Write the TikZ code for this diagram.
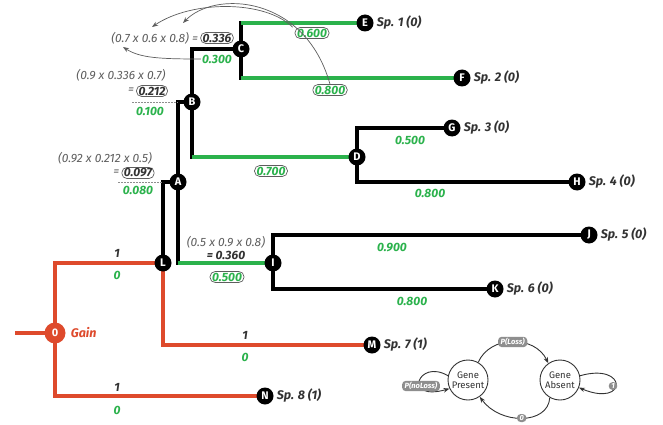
\documentclass[tikz,border=0pt]{standalone}
\usepackage{fontspec}
\setmainfont{Fira Sans}
\usetikzlibrary{backgrounds,arrows.meta}
\definecolor{tred}{HTML}{DE4A2C}
\definecolor{tgreen}{HTML}{2BB24C}
\definecolor{tgray}{HTML}{5E5E5E}
\definecolor{tdark}{HTML}{333333}
\definecolor{pillgray}{HTML}{8E8E8E}
\begin{document}
\begin{tikzpicture}[x=1pt,y=-1pt,
  tn/.style={circle,fill=black,text=white,font=\bfseries\fontsize{11}{11}\selectfont,inner sep=0pt,minimum size=17pt},
  blk/.style={line width=3.6pt,black,line cap=rect,line join=miter},
  grn/.style={line width=4.4pt,tgreen},
  redl/.style={line width=4.4pt,tred,line join=miter},
  sp/.style={anchor=west,text=tdark,font=\bfseries\itshape\fontsize{12.5}{13}\selectfont,inner sep=1pt},
  gv/.style={text=tgreen,font=\bfseries\itshape\fontsize{12}{12}\selectfont,inner sep=1pt},
  ov/.style={text=tdark,font=\bfseries\itshape\fontsize{12}{12}\selectfont,inner sep=1pt},
  boxed/.style={draw=tgray,line width=0.7pt,rounded corners=5pt,inner xsep=2pt,inner ysep=1.2pt},
  frm/.style={text=tgray,font=\itshape\fontsize{12}{12}\selectfont,inner sep=1pt},
  garr/.style={draw=tgray,line width=0.7pt,-{Stealth[length=6pt,width=4.5pt]}},
  leader/.style={draw=tgray!70,line width=0.7pt,dash pattern=on 2pt off 1pt},
  st/.style={circle,draw=tdark,line width=0.9pt,fill=white,minimum size=40pt,inner sep=0pt,align=center,text=tdark,font=\fontsize{9.5}{9.5}\selectfont},
  pill/.style={fill=pillgray,text=white,rounded corners=3.5pt,inner xsep=2.5pt,inner ysep=1.3pt,font=\bfseries\itshape\fontsize{7.5}{7.5}\selectfont},
  sarr/.style={draw=tdark,line width=0.9pt,-{Stealth[length=6pt,width=4.5pt]}}
]
\useasboundingbox (0,0) rectangle (663,425);

% tree nodes
\node[tn] (E) at (365,23) {E};
\node[tn] (F) at (462,78) {F};
\node[tn] (C) at (241,49) {C};
\node[tn] (B) at (192,102) {B};
\node[tn] (D) at (357,157) {D};
\node[tn] (G) at (452,128) {G};
\node[tn] (H) at (577,182) {H};
\node[tn] (A) at (178,182) {A};
\node[tn] (L) at (163,263) {L};
\node[tn] (I) at (273,263) {I};
\node[tn] (J) at (589,235) {J};
\node[tn] (K) at (495,289) {K};
\node[tn] (M) at (372,345) {M};
\node[tn] (N) at (265,396) {N};
\node[tn,fill=tred,minimum size=21pt,font=\bfseries\fontsize{11}{11}\selectfont] (O) at (55,333) {0};
\coordinate (root) at (15,333);

% species labels
\node[sp] (sE) at ([xshift=2pt]E.east) {Sp. 1 (0)};
\node[sp] (sF) at ([xshift=2pt]F.east) {Sp. 2 (0)};
\node[sp] (sG) at ([xshift=2pt]G.east) {Sp. 3 (0)};
\node[sp] (sH) at ([xshift=2pt]H.east) {Sp. 4 (0)};
\node[sp] (sJ) at ([xshift=2pt]J.east) {Sp. 5 (0)};
\node[sp] (sK) at ([xshift=2pt]K.east) {Sp. 6 (0)};
\node[sp] (sM) at ([xshift=2pt]M.east) {Sp. 7 (1)};
\node[sp] (sN) at ([xshift=2pt]N.east) {Sp. 8 (1)};
\node[sp,text=tred] (gain) at ([xshift=4pt]O.east) {Gain};

% branches
\begin{scope}[on background layer]
\fill[white] (0,0) rectangle (663,425);
\draw[blk] (C.center) -- (C.center |- E.center);
\draw[grn] (C.center |- E.center) -- (E.center);
\draw[blk] (C.center) -- (C.center |- F.center);
\draw[grn] (C.center |- F.center) -- (F.center);
\draw[blk] (B.center) |- (C.center);
\draw[blk] (B.center) -- (B.center |- D.center);
\draw[grn] (B.center |- D.center) -- (D.center);
\draw[blk] (D.center) |- (G.center);
\draw[blk] (D.center) |- (H.center);
\draw[blk] (A.center) |- (B.center);
\draw[blk] (A.center) -- (A.center |- I.center);
\draw[grn] (A.center |- I.center) -- (I.center);
\draw[blk] (L.center) |- (A.center);
\draw[blk] (I.center) |- (J.center);
\draw[blk] (I.center) |- (K.center);
\draw[redl] (root) -- (O.center);
\draw[redl] (O.center) |- (L.center);
\draw[redl] (O.center) |- (N.center);
\draw[redl] (L.center) |- (M.center);
\end{scope}

% red branch labels
\node[ov] (r1a) at (117,253) {1};
\node[gv] (r0a) at (117,275) {0};
\node[ov] (r1b) at (245,335) {1};
\node[gv] (r0b) at (245,357) {0};
\node[ov] (r1c) at (117,387) {1};
\node[gv] (r0c) at (117,410) {0};

% green values
\node[gv] (v300) at (217,59) {0.300};
\node[gv] (v100) at (150,111) {0.100};
\node[gv] (v080) at (138,190) {0.080};
\node[gv] (vG) at (410,140) {0.500};
\node[gv] (vH) at (430,193) {0.800};
\node[gv] (vJ) at (392,248) {0.900};
\node[gv] (vK) at (412,301) {0.800};
\node[gv,boxed] (v600) at (312,33) {0.600};
\node[gv,boxed] (v800) at (330,90) {0.800};
\node[gv,boxed] (v700) at (271,171) {0.700};
\node[gv,boxed] (v500) at (227,277) {0.500};

% formulas
\node[ov,boxed] (p336) at (217,38) {0.336};
\node[frm,anchor=east] (f336) at ([xshift=-1pt]p336.west) {(0.7 x 0.6 x 0.8) =};
\node[frm] (f212) at (121,75) {(0.9 x 0.336 x 0.7)};
\node[ov,boxed] (p212) at (152,91) {0.212};
\node[frm,anchor=east] (e212) at ([xshift=-1pt]p212.west) {=};
\node[frm] (f097) at (105,158) {(0.92 x 0.212 x 0.5)};
\node[ov,boxed] (p097) at (138,173) {0.097};
\node[frm,anchor=east] (e097) at ([xshift=-1pt]p097.west) {=};
\node[frm] (f360) at (226,242) {(0.5 x 0.9 x 0.8)};
\node[ov] (p360) at (226,255) {= 0.360};

% leader lines
\coordinate (l212) at (132,102);
\coordinate (l097) at (118,182);
\draw[leader] (l212) -- (A.center |- B.center);
\draw[leader] (l097) -- (L.center |- A.center);

% curved arrows
\coordinate (t07) at (123,47);
\coordinate (t06) at (152,27);
\coordinate (t08) at (183,23);
\draw[garr] ([xshift=-2pt]v600.north west) .. controls (265,0) and (192,0) .. (t06);
\draw[garr] (v800.north) .. controls (305,-5) and (215,-10) .. (t08);
\draw[garr] (v300.west) .. controls (160,59) and (140,58) .. (t07);

% state diagram
\node[st] (GP) at (468,380) {Gene\\Present};
\node[st] (GA) at (560,380) {Gene\\Absent};
\draw[sarr] (GP.60) .. controls (490,335) and (535,335) .. node[pill,pos=0.5] (pl) {P(Loss)} (GA.125);
\draw[sarr] (GA.-120) .. controls (548,425) and (500,425) .. node[pill,pos=0.5] (p0) {0} (GP.-55);
\draw[sarr] (GP.168) .. controls (418,358) and (402,402) .. (GP.205);
\node[pill] (pnl) at (421,386) {P(noLoss)};
\draw[sarr] (GA.12) .. controls (628,362) and (628,408) .. (GA.-22);
\node[pill] (p1) at (613,386) {1};
\end{tikzpicture}
\end{document}
